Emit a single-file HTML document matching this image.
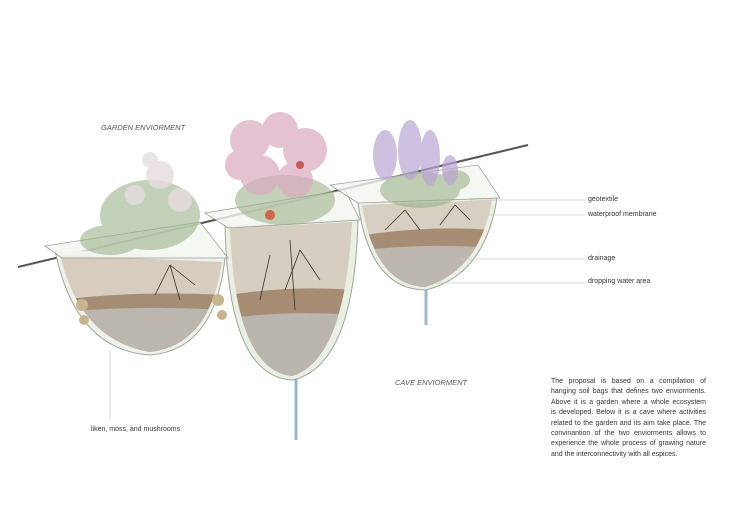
<!DOCTYPE html>
<html><head><meta charset="utf-8"><style>
html,body{margin:0;padding:0;background:#fff;}
body{width:730px;height:518px;position:relative;overflow:hidden;font-family:"Liberation Sans",sans-serif;}
.t{position:absolute;font-size:7px;color:#333;white-space:nowrap;}
.it{font-style:italic;color:#555;font-size:7.5px;}
.p{position:absolute;left:551px;top:377px;width:155px;font-size:7px;line-height:10.4px;color:#333;}
.p div{text-align:justify;text-align-last:justify;white-space:nowrap;}
.p div.l{text-align-last:left;}
</style></head><body>
<svg width="730" height="518" style="position:absolute;left:0;top:0">
<defs>
<clipPath id="c1"><path d="M60 255 Q80 340 150 352 Q210 345 222 262 Z"/></clipPath>
<clipPath id="c2"><path d="M230 228 Q235 370 292 376 Q345 360 352 222 Z"/></clipPath>
<clipPath id="c3"><path d="M362 205 Q375 285 425 287 Q480 270 492 200 Z"/></clipPath>
</defs>
<line x1="18" y1="267" x2="528" y2="145" stroke="#555" stroke-width="2"/>
<line x1="296" y1="370" x2="296" y2="440" stroke="#9bb7c9" stroke-width="3"/>
<line x1="426" y1="285" x2="426" y2="325" stroke="#9bb7c9" stroke-width="3"/>
<path d="M55 250 Q75 350 150 355 Q215 350 225 258" fill="#eef2ea" stroke="#9a9" stroke-width="1"/>
<g clip-path="url(#c1)">
<rect x="50" y="250" width="180" height="110" fill="#d6cdbf"/>
<path d="M60 300 Q140 290 225 295 L225 360 L60 360Z" fill="#a48d74"/>
<path d="M60 312 Q140 305 225 310 L225 360 L60 360Z" fill="#bbb6ae"/>
</g>
<path d="M225 225 Q228 378 293 380 Q355 365 358 218" fill="#e9efe3" stroke="#9a9" stroke-width="1"/>
<g clip-path="url(#c2)">
<rect x="225" y="218" width="135" height="165" fill="#d7cec2"/>
<path d="M230 295 Q290 285 355 290 L355 380 L230 380Z" fill="#a58c72"/>
<path d="M230 318 Q290 310 355 315 L355 380 L230 380Z" fill="#bab5ad"/>
</g>
<path d="M358 203 Q370 290 426 290 Q485 275 497 198" fill="#eaf0e4" stroke="#9a9" stroke-width="1"/>
<g clip-path="url(#c3)">
<rect x="358" y="195" width="140" height="95" fill="#d8cfc3"/>
<path d="M365 235 Q430 225 495 230 L495 290 L365 290Z" fill="#a68d73"/>
<path d="M365 250 Q430 243 495 248 L495 290 L365 290Z" fill="#bcb7af"/>
</g>
<path d="M45 246 L200 222 L228 258 L62 258Z" fill="#f3f6f0" stroke="#888" stroke-width="0.8" opacity="0.8"/>
<path d="M205 213 L345 190 L360 220 L228 228Z" fill="#f3f6f0" stroke="#888" stroke-width="0.8" opacity="0.8"/>
<path d="M330 185 L478 165 L500 198 L358 203Z" fill="#f3f6f0" stroke="#888" stroke-width="0.8" opacity="0.8"/>
<g stroke="#3b2f28" stroke-width="0.8" fill="none">
<path d="M170 265 l-15 30 M170 265 l10 35 M170 265 l25 20"/>
<path d="M270 255 l-10 45 M290 240 l5 70 M300 250 l20 30 M300 250 l-15 40"/>
<path d="M405 210 l-20 20 M405 210 l15 20 M455 205 l-15 20 M455 205 l15 15"/>
</g>
<g fill="#9cb48a" opacity="0.6">
<ellipse cx="150" cy="215" rx="50" ry="35"/><ellipse cx="110" cy="240" rx="30" ry="15"/>
</g>
<g fill="#e6dde0" opacity="0.8">
<circle cx="160" cy="175" r="14"/><circle cx="135" cy="195" r="10"/><circle cx="180" cy="200" r="12"/><circle cx="150" cy="160" r="8"/>
</g>
<g fill="#9cb48a" opacity="0.6"><ellipse cx="285" cy="200" rx="50" ry="25"/></g>
<g fill="#d9a9bf" opacity="0.7">
<circle cx="250" cy="140" r="20"/><circle cx="280" cy="130" r="18"/><circle cx="305" cy="150" r="22"/><circle cx="260" cy="175" r="20"/><circle cx="295" cy="180" r="18"/><circle cx="240" cy="165" r="15"/>
</g>
<circle cx="270" cy="215" r="5" fill="#d0664a"/>
<circle cx="300" cy="165" r="4" fill="#c95858"/>
<g fill="#9cb48a" opacity="0.6"><ellipse cx="420" cy="190" rx="40" ry="18"/><ellipse cx="455" cy="180" rx="15" ry="10"/></g>
<g fill="#b9a6d3" opacity="0.7">
<ellipse cx="385" cy="155" rx="12" ry="25"/><ellipse cx="410" cy="150" rx="12" ry="30"/><ellipse cx="430" cy="158" rx="10" ry="28"/><ellipse cx="450" cy="170" rx="8" ry="15"/>
</g>
<g fill="#c8b58d"><circle cx="82" cy="305" r="6"/><circle cx="84" cy="320" r="5"/><circle cx="218" cy="300" r="6"/><circle cx="222" cy="315" r="5"/></g>
<g stroke="#ccc" stroke-width="0.7">
<line x1="470" y1="200" x2="585" y2="200"/>
<line x1="485" y1="215" x2="585" y2="215"/>
<line x1="460" y1="259" x2="585" y2="259"/>
<line x1="435" y1="283" x2="585" y2="283"/>
<line x1="110" y1="350" x2="110" y2="420"/>
</g>
</svg>
<div class="t it" style="left:101px;top:123px">GARDEN ENVIORMENT</div>
<div class="t it" style="left:395px;top:378px">CAVE ENVIORMENT</div>
<div class="t" style="left:588px;top:196px">geotextile</div>
<div class="t" style="left:588px;top:211px">waterproof membrane</div>
<div class="t" style="left:588px;top:255px">drainage</div>
<div class="t" style="left:588px;top:278px">dropping water area</div>
<div class="t" style="left:91px;top:426px">liken, moss, and mushrooms</div>
<div class="p">
<div>The proposal is based on a compilation of</div>
<div>hanging soil bags that defines two enviorments.</div>
<div>Above it is a garden where a whole ecosystem</div>
<div>is developed. Below it is a cave where activities</div>
<div>related to the garden and its aim take place. The</div>
<div>convinantion of the two enviorments allows to</div>
<div>experience the whole process of grawing nature</div>
<div class="l">and the interconnectivity with all espices.</div>
</div>
</body></html>
